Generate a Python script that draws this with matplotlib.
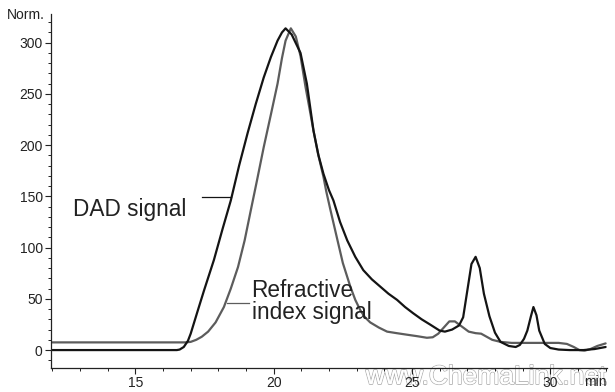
import matplotlib
matplotlib.use("Agg")
import matplotlib.pyplot as plt
import matplotlib.patheffects as pe
from matplotlib.ticker import MultipleLocator

plt.rcParams['font.family'] = ['Liberation Sans', 'DejaVu Sans']

# DAD signal (black)
dad_t = [12.0, 16.5, 16.6, 16.75, 16.9, 17.0, 17.25, 17.48, 17.84, 18.15, 18.45,
         18.75, 19.06, 19.35, 19.64, 19.9, 20.14, 20.3, 20.43, 20.65, 20.97,
         21.2, 21.44, 21.62, 21.8, 22.0, 22.16, 22.4, 22.66, 22.95, 23.24,
         23.55, 23.85, 24.15, 24.46, 24.75, 25.04, 25.35, 25.65, 26.0, 26.19,
         26.45, 26.7, 26.85, 27.0, 27.15, 27.3, 27.45, 27.6, 27.8, 28.0,
         28.2, 28.5, 28.75, 28.9, 29.05, 29.17, 29.3, 29.39, 29.5, 29.6,
         29.8, 30.0, 30.3, 30.7, 31.2, 31.6, 32.0]
dad_v = [0, 0, 0.5, 3, 9, 16, 38, 58, 88, 118, 146,
         180, 212, 240, 266, 286, 302, 310, 314, 308, 290,
         260, 214, 190, 172, 156, 146, 125, 107, 91, 78,
         69, 62, 55, 49, 42, 36, 30, 25, 19, 18,
         20, 24, 32, 58, 84, 91, 80, 55, 33, 17,
         8, 4, 3, 5, 11, 19, 33, 42, 34, 19,
         6, 2, 0.5, 0, 0, 1, 3]

# Refractive index signal (grey)
ri_t = [12.0, 16.8, 17.0, 17.2, 17.4, 17.63, 17.9, 18.2, 18.45, 18.71, 18.95,
        19.17, 19.4, 19.64, 19.9, 20.14, 20.3, 20.43, 20.62, 20.8, 20.97,
        21.15, 21.3, 21.44, 21.6, 21.8, 21.9, 22.05, 22.3, 22.5, 22.77,
        22.95, 23.13, 23.3, 23.49, 23.8, 24.1, 24.45, 24.82, 25.2, 25.54,
        25.75, 25.95, 26.15, 26.35, 26.55, 26.8, 27.05, 27.3, 27.5, 27.7,
        27.9, 28.2, 28.6, 30.3, 30.6, 30.85, 31.05, 31.25, 31.45, 31.7,
        32.0]
ri_v = [7.5, 7.5, 8, 10, 13, 18, 27, 42, 60, 81, 107,
        136, 166, 198, 230, 260, 285, 302, 314, 306, 287,
        257, 235, 214, 192, 169, 155, 137, 108, 85, 62,
        49, 39, 32, 27, 22, 18, 16.5, 15, 13.5, 12,
        12.5, 16, 22, 28, 28, 23, 18, 16.5, 16, 13,
        10, 8, 7, 7, 6, 3, 0, -0.5, 1, 4,
        6.5]

y_major = [0, 50, 100, 150, 200, 250, 300]
x_major = [15, 20, 25, 30]

fig = plt.figure(figsize=(6.15, 3.92), dpi=100)
ax = fig.add_axes([51/615, 1-368/392, 556/615, 354/392])

ax.plot(ri_t, ri_v, color='#5c5c5c', lw=1.6, solid_capstyle='round')
ax.plot(dad_t, dad_v, color='#141414', lw=1.6, solid_capstyle='round')

ax.set_xlim(11.95, 32.05)
ax.set_ylim(-17.5, 328)
ax.set_xticks(x_major)
ax.set_yticks(y_major)
ax.xaxis.set_minor_locator(MultipleLocator(1))
ax.yaxis.set_minor_locator(MultipleLocator(10))
for s in ['top', 'right']:
    ax.spines[s].set_visible(False)
for s in ['left', 'bottom']:
    ax.spines[s].set_linewidth(0.9)
    ax.spines[s].set_color('#222222')
ax.tick_params(which='major', length=4, width=0.8, labelsize=10, pad=2, colors='#222222')
ax.tick_params(which='minor', length=2.5, width=0.7, colors='#222222')

# annotations
ax.plot([17.4, 18.45], [149, 149], color='#141414', lw=0.9)
ax.text(12.75, 137, 'DAD signal', fontsize=16.3, color='#222222', va='center', ha='left')
ax.plot([18.3, 19.1], [46, 46], color='#5c5c5c', lw=0.9)
ax.text(19.2, 47, 'Refractive\nindex signal', fontsize=16.3, color='#222222',
        va='center', ha='left', linespacing=0.95)

fig.text(7/615, 1-15/392, 'Norm.', fontsize=10, color='#222222', va='center', ha='left')
fig.text(607/615, 1-382/392, 'min', fontsize=10, color='#222222', va='center', ha='right')

ax.text(486/615, 1-377/392, 'www.ChemaLink.net', transform=fig.transFigure,
        fontsize=19, color='white', ha='center', va='center',
        zorder=0.5, clip_on=False,
        path_effects=[pe.withStroke(linewidth=1.2, foreground='#b0b0b0'), pe.Normal()])

fig.savefig('out.png', dpi=100)
